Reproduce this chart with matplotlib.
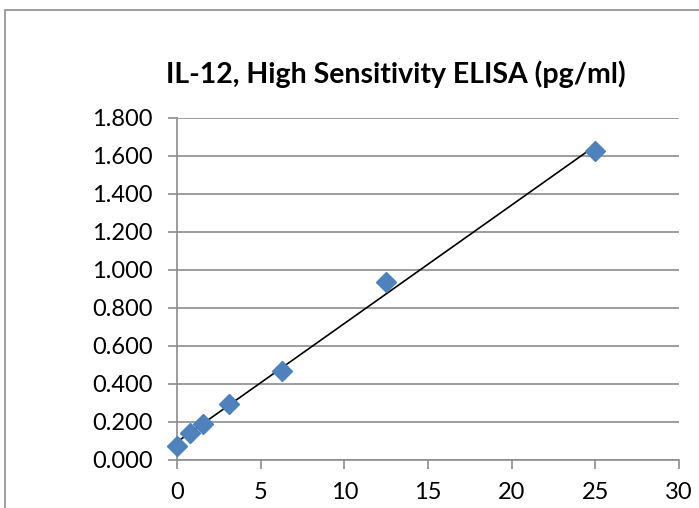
import numpy as np
import matplotlib
matplotlib.use("Agg")
import matplotlib.pyplot as plt
from matplotlib.patches import Rectangle

# standard curve data
conc = [0, 0.78125, 1.5625, 3.125, 6.25, 12.5, 25]
od = [0.075, 0.142, 0.190, 0.295, 0.468, 0.937, 1.626]
title = "IL-12, High Sensitivity ELISA (pg/ml)"
yticks = [0.0, 0.2, 0.4, 0.6, 0.8, 1.0, 1.2, 1.4, 1.6, 1.8]
xticks = [0, 5, 10, 15, 20, 25, 30]

plt.rcParams['font.family'] = ['Lato', 'DejaVu Sans']

W, H = 699, 508
fig = plt.figure(figsize=(W / 100, H / 100), dpi=100)

# chart frame (cropped at right and bottom)
fig.patches.append(Rectangle((5 / W, -0.2), 1.5, 1.2 - 10 / H,
                             transform=fig.transFigure, fill=False,
                             edgecolor='#8c8c8c', linewidth=1.2))

ax = fig.add_axes([177 / W, 1 - 460 / H, (679 - 177) / W, (460 - 118) / H])

# linear trendline
k, b = np.polyfit(conc, od, 1)
xl = np.array([min(conc), max(conc)])
ax.plot(xl, k * xl + b, color='black', linewidth=1.2, zorder=3)
ax.plot(conc, od, linestyle='none', marker='D', markersize=10,
        color='#4f81bd', markeredgecolor='#4f81bd', zorder=4, clip_on=False)

ax.set_xlim(0, 30)
ax.set_ylim(0, 1.8)
ax.set_xticks(xticks)
ax.set_yticks(yticks)
ax.set_yticklabels(["%.3f" % v for v in yticks])
ax.yaxis.grid(True, color='#8c8c8c', linewidth=1.2)
ax.set_axisbelow(True)
for s in ['top', 'right']:
    ax.spines[s].set_visible(False)
for s in ['left', 'bottom']:
    ax.spines[s].set_color('#8c8c8c')
    ax.spines[s].set_linewidth(1.2)
ax.tick_params(axis='both', direction='out', length=6.5, width=1.2,
               color='#8c8c8c', labelsize=17, pad=11)
ax.tick_params(axis='x', pad=9)

fig.text(396 / W, 1 - 83 / H, title, ha='center', va='baseline',
         fontsize=20.5, fontweight='bold')

fig.savefig('out.png', dpi=100)
